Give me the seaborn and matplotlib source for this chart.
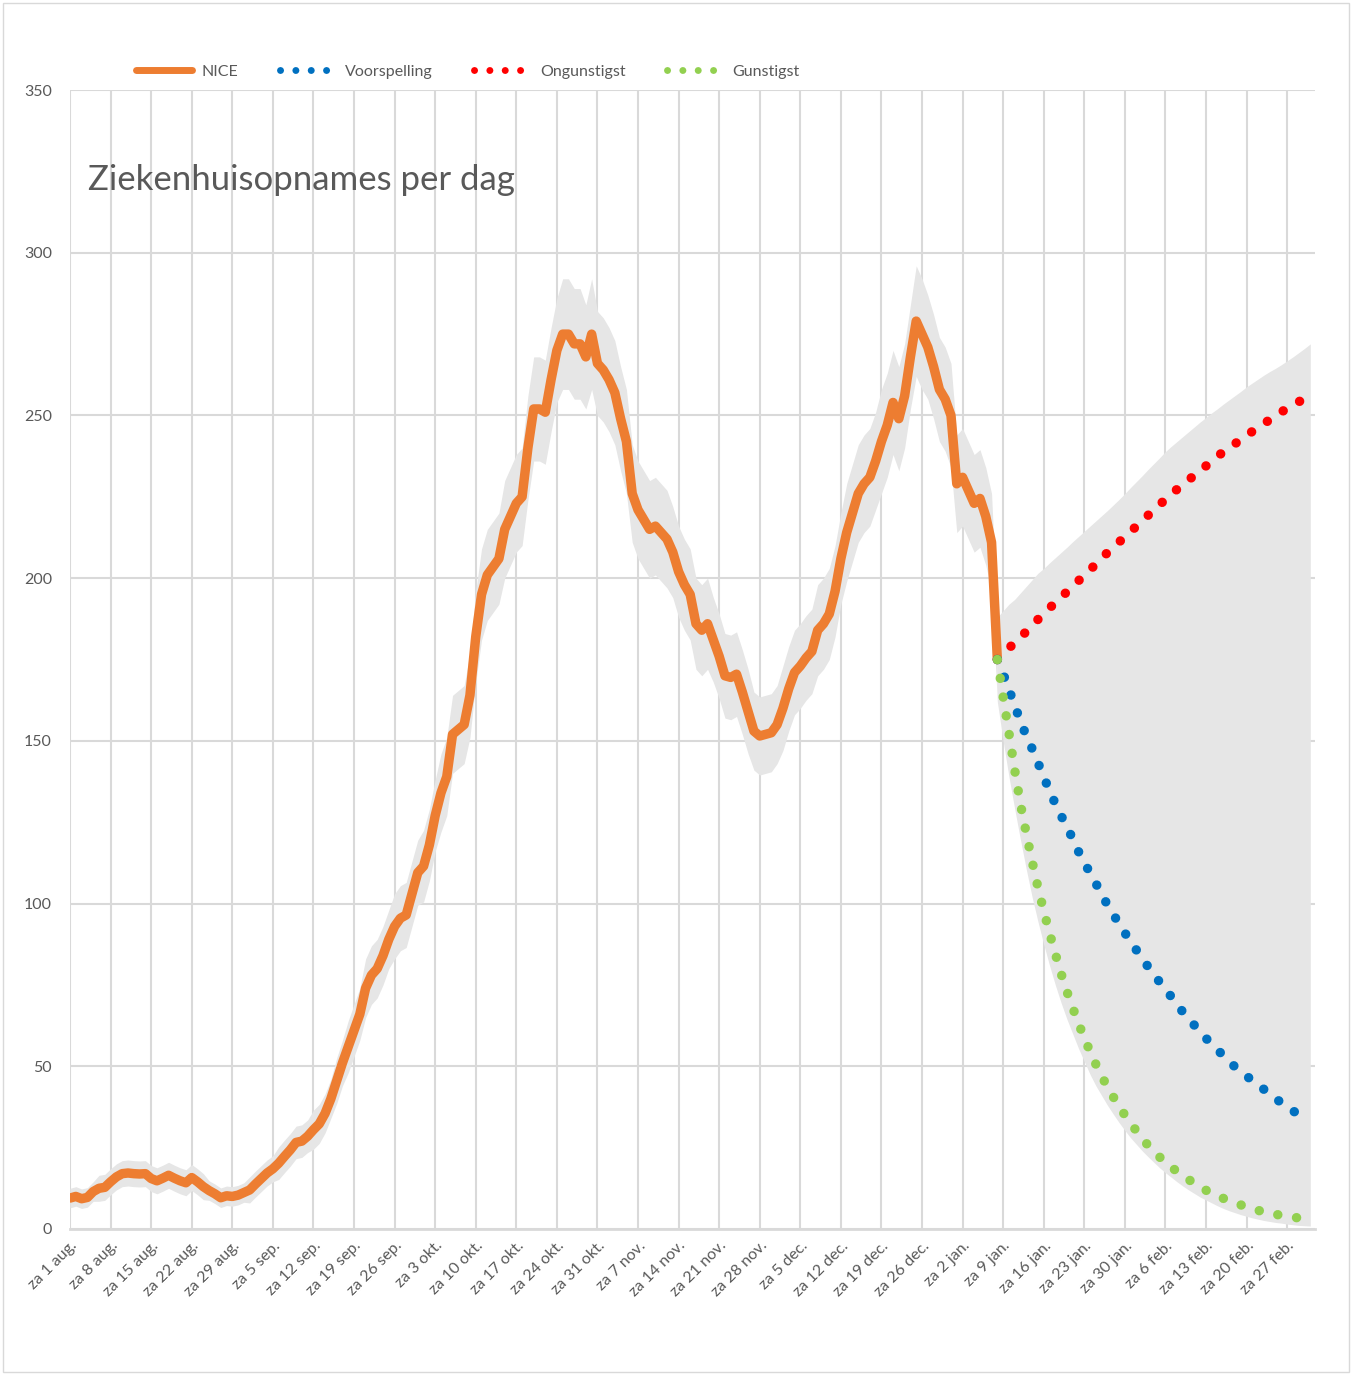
import pandas as pd
import seaborn as sns
import matplotlib.pyplot as plt
from matplotlib.lines import Line2D
from matplotlib.patches import Rectangle

# Daily hospital admissions (NICE), 1 Aug 2020 .. 8 Jan 2021 (day 0 .. 160)
nice = [
    9.5, 10, 9.3, 9.7, 11.5, 12.5, 12.8, 14.5, 16, 17,
    17.2, 17, 16.9, 17, 15.5, 14.8, 15.6, 16.5, 15.6, 14.8,
    14.2, 15.8, 14.5, 13, 11.8, 10.8, 9.6, 10.2, 10, 10.4,
    11.2, 12, 13.8, 15.5, 17.2, 18.5, 20.2, 22.3, 24.3, 26.6,
    27, 28.5, 30.5, 32.3, 35.5, 40, 45.5, 51, 56, 61,
    66, 74, 78, 80, 84, 89, 93, 95.5, 96.5, 103,
    109.5, 111.5, 118, 127, 134, 139, 152, 153.5, 155, 164,
    182, 195, 201, 203.5, 206, 215, 219, 223, 225, 240,
    252, 252, 251, 261, 270, 275, 275, 272, 272, 268,
    275, 266, 264, 261, 257, 249, 242, 226, 221, 218,
    215, 216, 214, 212, 208, 202, 198, 195, 186, 184,
    186, 181, 176, 170, 169.5, 170.5, 165, 159, 153, 151.5,
    152, 152.5, 155, 160, 166, 171, 173, 175.5, 177.5, 184,
    186, 189, 196, 206, 214, 220, 226, 229, 231, 236,
    242, 247, 254, 249, 256, 268, 279, 275, 271, 265,
    258, 255, 250, 229, 231, 227, 223, 224.5, 219, 211,
    175,
]
# half width of the grey uncertainty band around NICE
nice_spread = [
    3, 3, 3, 3, 3, 4, 4, 4, 4, 4,
    4, 4, 4, 4, 4, 4, 4, 4, 4, 4,
    4, 4, 4, 4, 3, 3, 3, 3, 3, 3,
    3, 4, 4, 4, 4, 4, 5, 5, 5, 5,
    5, 5, 6, 6, 6, 6, 7, 7, 8, 8,
    8, 9, 9, 9, 9, 9, 10, 10, 10, 10,
    10, 11, 11, 11, 12, 12, 12, 12, 12, 13,
    14, 14, 14, 14, 14, 15, 15, 15, 15, 16,
    16, 16, 16, 16, 16, 17, 17, 17, 17, 16,
    17, 16, 16, 16, 16, 16, 16, 15, 15, 15,
    15, 15, 15, 15, 14, 14, 14, 14, 14, 14,
    14, 13, 13, 13, 13, 13, 13, 13, 12, 12,
    12, 12, 12, 13, 13, 13, 13, 13, 13, 14,
    14, 14, 14, 14, 15, 15, 15, 15, 15, 15,
    16, 16, 16, 16, 16, 16, 17, 17, 16, 16,
    16, 16, 16, 15, 15, 15, 15, 15, 15, 15,
    13,
]

# Forecasts, 8 Jan 2021 .. 3 Mar 2021 (day 160 .. 214)
voorspelling = [
    175, 170.6, 165.8, 160.8, 156, 151.5, 147.6, 143.3, 139, 134.6,
    130.7, 127, 123.6, 119.9, 116, 112.6, 109.4, 106.2, 102.8, 99.6,
    96.7, 93.8, 91, 88.3, 85.7, 83.1, 80.6, 78.2, 75.9, 73.6,
    71.4, 69, 66.7, 64.6, 62.6, 60.5, 58.6, 56.8, 55, 53.3,
    51.6, 49.8, 48.3, 47, 45.6, 44.3, 42.9, 41.5, 40.1, 38.8,
    37.5, 36.3, 35.2, 34.1, 33,
]
ongunstigst = [
    175, 176.8, 178.5, 180.2, 181.9, 183.6, 185.4, 187.3, 189, 190.8,
    192.5, 194.2, 195.8, 197.5, 199.2, 200.9, 202.6, 204.3, 206, 207.9,
    209.5, 211.1, 212.7, 214.3, 216, 217.7, 219.3, 221, 222.6, 224.2,
    225.8, 227.3, 228.8, 230.2, 231.6, 233, 234.5, 236, 237.5, 238.8,
    240, 241.3, 242.6, 243.9, 245.1, 246.3, 247.5, 248.7, 249.9, 251.1,
    252.1, 253.1, 254.2, 255.2, 256.2,
]
gunstigst = [
    175, 163.5, 152.5, 141, 130.5, 121.5, 113, 105, 97.8, 91,
    84.6, 78.5, 73, 68, 63.2, 58.7, 54.5, 50.6, 47, 43.6,
    40.6, 37.7, 35, 32.5, 30.1, 27.8, 25.7, 23.8, 22.1, 20.5,
    19, 17.7, 16.5, 15.2, 14, 12.9, 11.9, 11, 10.2, 9.4,
    8.7, 8, 7.4, 6.8, 6.2, 5.7, 5.3, 4.8, 4.5, 4.2,
    3.9, 3.6, 3.4, 3.2, 3,
]
band_upper = [
    188, 190, 192, 193.5, 195.5, 197.5, 199.5, 201.5, 203, 204.7,
    206.3, 207.9, 209.5, 211.2, 212.8, 214.4, 216, 217.6, 219.2, 220.8,
    222.5, 224.2, 226, 227.9, 229.7, 231.5, 233.4, 235.2, 237, 238.9,
    240.5, 242, 243.5, 245, 246.5, 248, 249.4, 250.8, 252.1, 253.5,
    254.8, 256.1, 257.4, 258.8, 260, 261.2, 262.4, 263.5, 264.5, 265.6,
    266.8, 268, 269.3, 270.6, 272,
]
band_lower = [
    162, 150, 139, 129, 119.5, 110.5, 102, 94.5, 87.5, 81,
    75, 69.5, 64.5, 60, 55.5, 51.5, 47.5, 44, 41, 38,
    35.3, 32.7, 30.3, 28, 26, 24, 22.2, 20.5, 18.8, 17.3,
    15.9, 14.5, 13.2, 12, 10.9, 9.8, 8.9, 8, 7.1, 6.3,
    5.6, 5, 4.4, 3.9, 3.4, 3, 2.6, 2.3, 2, 1.8,
    1.5, 1.3, 1.1, 1, 0.9,
]

tick_labels = [
    "za 1 aug.", "za 8 aug.", "za 15 aug.", "za 22 aug.", "za 29 aug.",
    "za 5 sep.", "za 12 sep.", "za 19 sep.", "za 26 sep.", "za 3 okt.",
    "za 10 okt.", "za 17 okt.", "za 24 okt.", "za 31 okt.", "za 7 nov.",
    "za 14 nov.", "za 21 nov.", "za 28 nov.", "za 5 dec.", "za 12 dec.",
    "za 19 dec.", "za 26 dec.", "za 2 jan.", "za 9 jan.", "za 16 jan.",
    "za 23 jan.", "za 30 jan.", "za 6 feb.", "za 13 feb.", "za 20 feb.",
    "za 27 feb.",
]

ORANGE = "#ED7D31"
BLUE = "#0070C0"
RED = "#FF0000"
GREEN = "#92D050"
BAND = "#E6E6E6"
GRID = "#D9D9D9"
TEXT = "#595959"

hist = pd.DataFrame({"dag": range(len(nice)), "NICE": nice, "spread": nice_spread})
hist["lo"] = hist["NICE"] - hist["spread"]
hist["hi"] = hist["NICE"] + hist["spread"]

fc = pd.DataFrame({
    "dag": range(160, 160 + len(voorspelling)),
    "Voorspelling": voorspelling,
    "Ongunstigst": ongunstigst,
    "Gunstigst": gunstigst,
    "lo": band_lower,
    "hi": band_upper,
})

sns.set_theme(style="white")
plt.rcParams["font.family"] = ["Lato", "DejaVu Sans"]

fig, ax = plt.subplots(figsize=(13.52, 13.75), dpi=100)
fig.subplots_adjust(left=0.0518, right=0.9726, bottom=0.1062, top=0.9345)

# grey uncertainty bands
ax.fill_between(hist["dag"], hist["lo"], hist["hi"], color=BAND, linewidth=0, zorder=1)
ax.fill_between(fc["dag"], fc["lo"], fc["hi"], color=BAND, linewidth=0, zorder=1)

sns.lineplot(data=hist, x="dag", y="NICE", ax=ax, color=ORANGE, linewidth=6.8,
             solid_capstyle="round", solid_joinstyle="round", zorder=3)

dots = (0, (0.01, 2.0))
for col, colr in [("Ongunstigst", RED), ("Voorspelling", BLUE), ("Gunstigst", GREEN)]:
    sns.lineplot(data=fc, x="dag", y=col, ax=ax, color=colr, linewidth=6.8,
                 linestyle=dots, dash_capstyle="round", zorder=4)

ax.set_xlim(0, 214.8)
ax.set_ylim(0, 350)
ax.set_xticks(range(0, 7 * len(tick_labels), 7))
ax.set_xticklabels(tick_labels, rotation=45, ha="right", va="top",
                   rotation_mode="anchor")
ax.set_yticks(range(0, 351, 50))
ax.set_xlabel("")
ax.set_ylabel("")
ax.tick_params(axis="both", length=0, labelcolor=TEXT, labelsize=11.5)
ax.tick_params(axis="y", pad=13)
ax.tick_params(axis="x", pad=7)
ax.grid(True, color=GRID, linewidth=1.5)
ax.set_axisbelow(True)
for side in ["top", "left", "right"]:
    ax.spines[side].set_visible(False)
ax.spines["bottom"].set_color(GRID)
ax.spines["bottom"].set_linewidth(2)
ax.spines["bottom"].set_zorder(0.5)

fig.text(0.065, 0.862, "Ziekenhuisopnames per dag", fontsize=25, color=TEXT,
         ha="left", va="baseline")

handles = [
    Line2D([], [], color=ORANGE, linewidth=5, solid_capstyle="round"),
    Line2D([], [], color=BLUE, linewidth=5, linestyle=(0, (0.01, 2.2)), dash_capstyle="round"),
    Line2D([], [], color=RED, linewidth=5, linestyle=(0, (0.01, 2.2)), dash_capstyle="round"),
    Line2D([], [], color=GREEN, linewidth=5, linestyle=(0, (0.01, 2.2)), dash_capstyle="round"),
]
leg = fig.legend(handles, ["NICE", "Voorspelling", "Ongunstigst", "Gunstigst"],
                 loc="center", bbox_to_anchor=(0.346, 0.948), ncol=4, frameon=False,
                 fontsize=11.5, handlelength=3.5, handletextpad=0.6, columnspacing=2.6)
for t in leg.get_texts():
    t.set_color(TEXT)

fig.patches.append(Rectangle((0.002, 0.002), 0.996, 0.996, transform=fig.transFigure,
                             fill=False, edgecolor=GRID, linewidth=1))

fig.savefig("out.png", dpi=100)
